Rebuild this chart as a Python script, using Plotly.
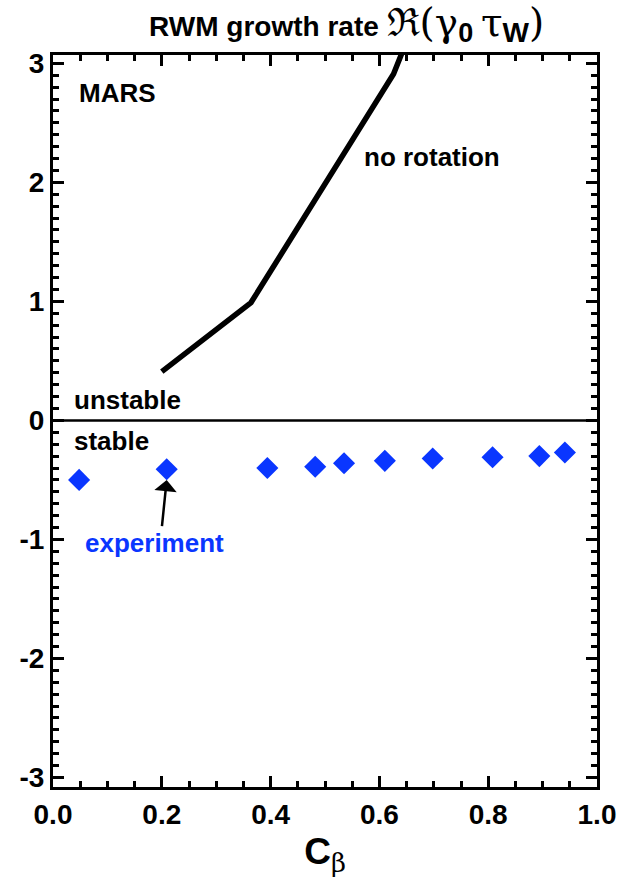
import plotly.graph_objects as go

# MARS model, no plasma rotation: growth rate vs C_beta
mars_cbeta = [0.20, 0.364, 0.626, 0.66]
mars_growth = [0.41, 0.99, 2.91, 3.30]

# Measured RWM damping rates
exp_cbeta = [0.048, 0.209, 0.394, 0.482, 0.535, 0.61, 0.698, 0.808, 0.894, 0.941]
exp_growth = [-0.50, -0.41, -0.40, -0.39, -0.36, -0.34, -0.32, -0.31, -0.30, -0.27]

x_ticks = [0.0, 0.2, 0.4, 0.6, 0.8, 1.0]
x_tick_text = ["0.0", "0.2", "0.4", "0.6", "0.8", "1.0"]
y_ticks = [-3, -2, -1, 0, 1, 2, 3]
y_tick_text = ["-3", "-2", "-1", "0", "1", "2", "3"]

SANS = "Liberation Sans, Arial, Helvetica, sans-serif"
SERIF_SPAN = "font-family:DejaVu Serif;font-weight:normal;font-size:39px"
BLUE = "#0a36ff"

fig = go.Figure()

fig.add_trace(go.Scatter(
    x=mars_cbeta, y=mars_growth, mode="lines",
    line=dict(color="black", width=5.5),
    showlegend=False, hoverinfo="skip",
))

fig.add_trace(go.Scatter(
    x=exp_cbeta, y=exp_growth, mode="markers",
    marker=dict(symbol="diamond", size=17, color=BLUE, line=dict(width=0)),
    showlegend=False, cliponaxis=True,
))

# marginal stability line
fig.add_hline(y=0, line=dict(color="black", width=2.5))

axis_common = dict(
    showgrid=False, zeroline=False, showline=True, linecolor="black",
    linewidth=3, mirror="ticks", ticks="inside", tickcolor="black",
    tickwidth=3, ticklen=11,
    tickfont=dict(family=SANS, size=28, color="black", weight="bold"),
)

fig.update_xaxes(
    range=[0, 1], tickvals=x_ticks, ticktext=x_tick_text,
    minor=dict(dtick=0.05, ticks="inside", ticklen=6, tickwidth=3, tickcolor="black"),
    title=dict(
        text="C<sub><span style='font-family:DejaVu Serif;font-weight:normal'>β</span></sub>",
        font=dict(family=SANS, size=37, color="black", weight="bold"),
        standoff=10,
    ),
    **axis_common,
)
fig.update_yaxes(
    range=[-3.08, 3.07], tickvals=y_ticks, ticktext=y_tick_text,
    minor=dict(dtick=0.1, ticks="inside", ticklen=6, tickwidth=3, tickcolor="black"),
    **axis_common,
)

label_font = dict(family=SANS, size=26, color="black", weight="bold")
for txt, xx, yy in [
    ("MARS", 0.044, 2.75),
    ("no rotation", 0.568, 2.21),
    ("unstable", 0.035, 0.17),
    ("stable", 0.035, -0.17),
]:
    fig.add_annotation(x=xx, y=yy, xref="x", yref="y", text=txt, showarrow=False,
                       xanchor="left", yanchor="middle", font=label_font)

fig.add_annotation(x=0.055, y=-1.03, xref="x", yref="y", text="experiment",
                   showarrow=False, xanchor="left", yanchor="middle",
                   font=dict(family=SANS, size=26, color=BLUE, weight="bold"))

# arrow pointing at one experimental point
fig.add_annotation(x=exp_cbeta[1], y=exp_growth[1] - 0.09, xref="x", yref="y",
                   ax=0.200, ay=-0.90, axref="x", ayref="y", text="",
                   showarrow=True, arrowhead=1, arrowsize=1.5, arrowwidth=2.5,
                   arrowcolor="black")

fig.update_layout(
    width=628, height=880,
    margin=dict(l=53, r=29, t=55, b=93),
    paper_bgcolor="white", plot_bgcolor="white",
    title=dict(
        text="RWM growth rate "
             f"<span style='{SERIF_SPAN}'>ℜ(γ</span>"
             "<sub><span style='font-size:27px'>0</span></sub> "
             f"<span style='{SERIF_SPAN}'>τ</span>"
             "<sub><span style='font-size:28px'>W</span></sub>"
             f"<span style='{SERIF_SPAN}'>)</span>",
        font=dict(family=SANS, size=28, color="black", weight="bold"),
        x=0.552, xref="container", xanchor="center",
        y=1 - 26 / 880, yref="container", yanchor="middle",
    ),
)

fig.write_html("out.html")
